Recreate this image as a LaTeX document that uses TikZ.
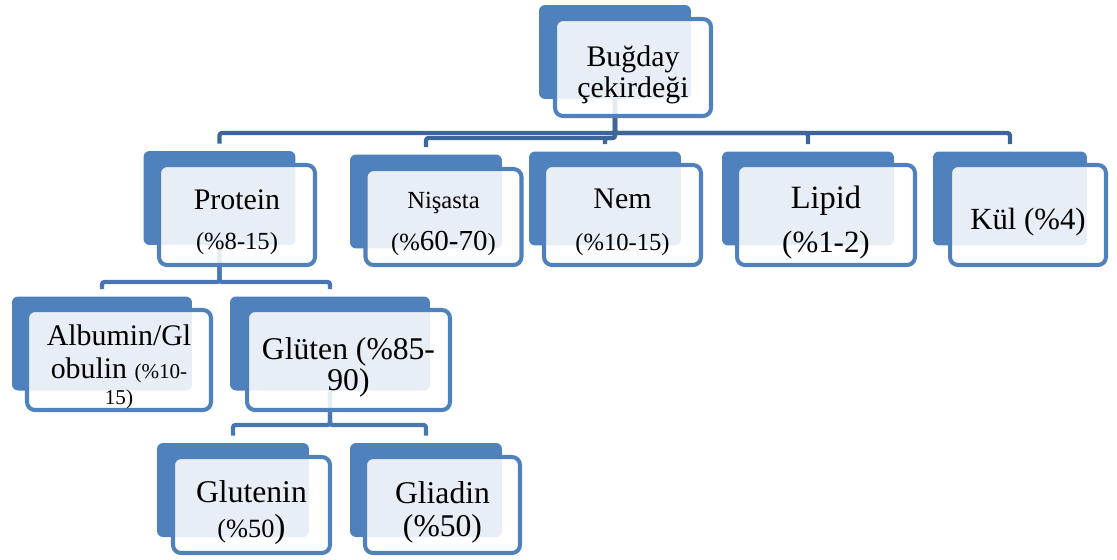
\documentclass[tikz,border=0pt]{standalone}
\usepackage{fontspec}
\setmainfont{Liberation Serif}
\usetikzlibrary{backgrounds}

\definecolor{boxblue}{RGB}{79,129,189}
\definecolor{linkdark}{RGB}{62,101,151}
\definecolor{linkblue}{RGB}{72,118,178}

\newcommand{\sz}[1]{\fontsize{#1}{#1}\selectfont}
\newcommand{\up}{\rule{0pt}{\dimexpr.9em+4.6pt\relax}}

\tikzset{
  backbox/.style={fill=boxblue, rounded corners=0.12cm, minimum width=3.04cm,
    minimum height=1.88cm, inner sep=0pt},
  frontbox/.style={draw=boxblue, line width=2.3pt, fill=white, fill opacity=0.87,
    text opacity=1, rounded corners=0.16cm, minimum width=3.12cm,
    minimum height=1.96cm, inner sep=0pt, align=center, text=black},
  link/.style={line width=2.4pt, rounded corners=0.05cm, shorten >=0.14cm},
  topline/.style={link, draw=linkdark},
  subline/.style={link, draw=linkblue}
}

\begin{document}
\begin{tikzpicture}[x=0.02cm,y=-0.02cm]

\useasboundingbox (0,0) rectangle (1117,559);

\node[backbox] (root-b) at (615,52) {};
\node[frontbox, minimum height=1.94cm, font=\fontsize{17}{17.6}\selectfont] (root) at (633,67.5) {\up Buğday\\çekirdeği};

\node[backbox] (protein-b) at (219.5,198) {};
\node[frontbox, minimum height=2cm, font=\fontsize{17}{22.7}\selectfont] (protein) at (237,215) {\up Protein\\{\sz{14}(\%8-15)}};

\node[backbox] (nisasta-b) at (426,201.5) {};
\node[frontbox, minimum height=1.92cm, font=\fontsize{14}{23.8}\selectfont] (nisasta) at (443.5,217) {\up Nişasta\\(\%{\sz{16.5}60-70})};

\node[backbox] (nem-b) at (605,198.5) {};
\node[frontbox, minimum width=3.14cm, minimum height=2cm, font=\fontsize{17}{23.8}\selectfont] (nem) at (622.5,215) {\up Nem\\{\sz{14}(\%10-15)}};

\node[backbox, minimum width=3.44cm] (lipid-b) at (808,198.5) {};
\node[frontbox, minimum width=3.56cm, minimum height=2cm, font=\fontsize{18.5}{25}\selectfont] (lipid) at (826,215) {\up Lipid\\{\sz{17.6}(\%1-2)}};

\node[backbox, minimum width=3.08cm] (kul-b) at (1010,198.5) {};
\node[frontbox, minimum height=2cm, font=\fontsize{17.5}{20}\selectfont] (kul) at (1028,215) {\up Kül (\%4)};

\node[backbox, minimum width=3.6cm] (albumin-b) at (102,343.5) {};
\node[frontbox, minimum width=3.68cm, minimum height=2cm, font=\fontsize{17}{18.7}\selectfont] (albumin) at (119,360) {\up Albumin/Gl\\obulin {\sz{12}(\%10-}\\[-4pt]{\sz{12}15)}};

\node[backbox, minimum width=4cm] (gluten-b) at (330,343.5) {};
\node[frontbox, minimum width=4.06cm, minimum height=2cm, font=\fontsize{18}{18}\selectfont] (gluten) at (348.5,360) {\up Glüten (\%85-\\90)};

\node[backbox] (glutenin-b) at (233,490) {};
\node[frontbox, minimum width=3.14cm, minimum height=1.92cm, font=\fontsize{18}{20}\selectfont] (glutenin) at (251.5,505) {\up Glutenin\\{\sz{15}(\%50}{\sz{19})}};

\node[backbox] (gliadin-b) at (426,490) {};
\node[frontbox, minimum width=3.1cm, minimum height=1.92cm, font=\fontsize{18}{18.7}\selectfont] (gliadin) at (442.5,505) {\up Gliadin\\(\%50)};

\coordinate (bus1a) at (0,133);
\coordinate (bus1b) at (0,138);
\coordinate (bus2) at (0,282);
\coordinate (bus3) at (0,425);

\begin{scope}[on background layer]
\draw[topline] (root-b.center) -- (root-b.center |- bus1a) -| (protein-b.north);
\draw[topline] (root-b.center) -- (root-b.center |- bus1b) -| (nisasta-b.north);
\draw[topline] (root-b.center) -- (root-b.center |- bus1b) -| (nem-b.north);
\draw[topline] (root-b.center) -- (root-b.center |- bus1a) -| (lipid-b.north);
\draw[topline] (root-b.center) -- (root-b.center |- bus1a) -| (kul-b.north);

\draw[subline] (protein-b.center) -- (protein-b.center |- bus2) -| (albumin-b.north);
\draw[subline] (protein-b.center) -- (protein-b.center |- bus2) -| (gluten-b.north);

\draw[subline] (gluten-b.center) -- (gluten-b.center |- bus3) -| (glutenin-b.north);
\draw[subline] (gluten-b.center) -- (gluten-b.center |- bus3) -| (gliadin-b.north);
\end{scope}

\end{tikzpicture}
\end{document}
